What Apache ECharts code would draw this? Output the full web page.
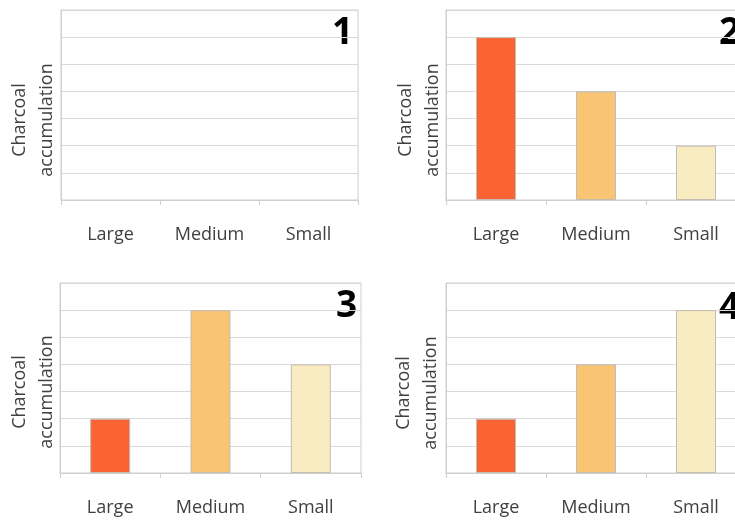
<!DOCTYPE html>
<html>
<head>
<meta charset="utf-8">
<script src="https://cdn.jsdelivr.net/npm/echarts@6/dist/echarts.min.js"></script>
<style>
html,body{margin:0;padding:0;background:#fff;}
#chart{width:735px;height:521px;}
</style>
</head>
<body>
<div id="chart"></div>
<script>
const categories = ['Large', 'Medium', 'Small'];
const panel1 = [null, null, null];
const panel2 = [6, 4, 2];
const panel3 = [2, 6, 4];
const panel4 = [2, 4, 6];
const panelNumbers = ['1', '2', '3', '4'];
const yMin = 0, yMax = 7, yInterval = 1;
const yAxisTitle = 'Charcoal\naccumulation';
const barColors = ['#FA6433', '#F9C574', '#FAECC1'];

const panels = [panel1, panel2, panel3, panel4];
const grids = [
  {left: 61, top: 10, width: 297, height: 190},
  {left: 446, top: 10, width: 300, height: 190},
  {left: 60, top: 283, width: 301, height: 190},
  {left: 446, top: 283, width: 300, height: 190}
];
const lineColor = '#d9d9d9';
const textColor = '#404040';
const font = 'Open Sans';

const option = {
  backgroundColor: '#ffffff',
  animation: false,
  grid: grids.map(g => Object.assign({show: true, borderColor: '#cfcfcf', borderWidth: 1, backgroundColor: 'transparent', containLabel: false, outerBoundsMode: 'none'}, g)),
  xAxis: grids.map((g, i) => ({
    type: 'category', gridIndex: i, data: categories, boundaryGap: true,
    axisLine: {show: true, lineStyle: {color: '#cfcfcf', width: 1}},
    axisTick: {show: true, length: 5, lineStyle: {color: '#cfcfcf'}},
    axisLabel: {margin: 26, fontFamily: font, fontSize: 18, color: textColor}
  })),
  yAxis: grids.map((g, i) => ({
    type: 'value', gridIndex: i, min: yMin, max: yMax, interval: yInterval,
    axisLine: {show: true, lineStyle: {color: '#cfcfcf'}},
    axisTick: {show: false}, axisLabel: {show: false},
    splitLine: {show: true, lineStyle: {color: lineColor, width: 1}}
  })),
  series: panels.map((vals, i) => ({
    type: 'bar', xAxisIndex: i, yAxisIndex: i, barWidth: 40,
    data: vals.map((v, j) => ({value: v, itemStyle: {color: barColors[j], borderColor: '#c4bcb0', borderWidth: 1}}))
  })),
  graphic: [
    {type: 'text', x: 332, y: 15, style: {text: panelNumbers[0], font: 'bold 37px "Open Sans"', fill: '#000'}},
    {type: 'text', x: 719, y: 15, style: {text: panelNumbers[1], font: 'bold 37px "Open Sans"', fill: '#000'}},
    {type: 'text', x: 336, y: 288, style: {text: panelNumbers[2], font: 'bold 37px "Open Sans"', fill: '#000'}},
    {type: 'text', x: 719, y: 290, style: {text: panelNumbers[3], font: 'bold 37px "Open Sans"', fill: '#000'}},
    {type: 'text', x: 33, y: 120, rotation: Math.PI / 2, style: {text: yAxisTitle, font: '18px "Open Sans"', fill: textColor, align: 'center', verticalAlign: 'middle', lineHeight: 27}},
    {type: 'text', x: 419, y: 120, rotation: Math.PI / 2, style: {text: yAxisTitle, font: '18px "Open Sans"', fill: textColor, align: 'center', verticalAlign: 'middle', lineHeight: 27}},
    {type: 'text', x: 33, y: 392, rotation: Math.PI / 2, style: {text: yAxisTitle, font: '18px "Open Sans"', fill: textColor, align: 'center', verticalAlign: 'middle', lineHeight: 27}},
    {type: 'text', x: 417, y: 393, rotation: Math.PI / 2, style: {text: yAxisTitle, font: '18px "Open Sans"', fill: textColor, align: 'center', verticalAlign: 'middle', lineHeight: 27}}
  ]
};

const chart = echarts.init(document.getElementById('chart'), null, {renderer: 'canvas'});
chart.setOption(option);
</script>
</body>
</html>
